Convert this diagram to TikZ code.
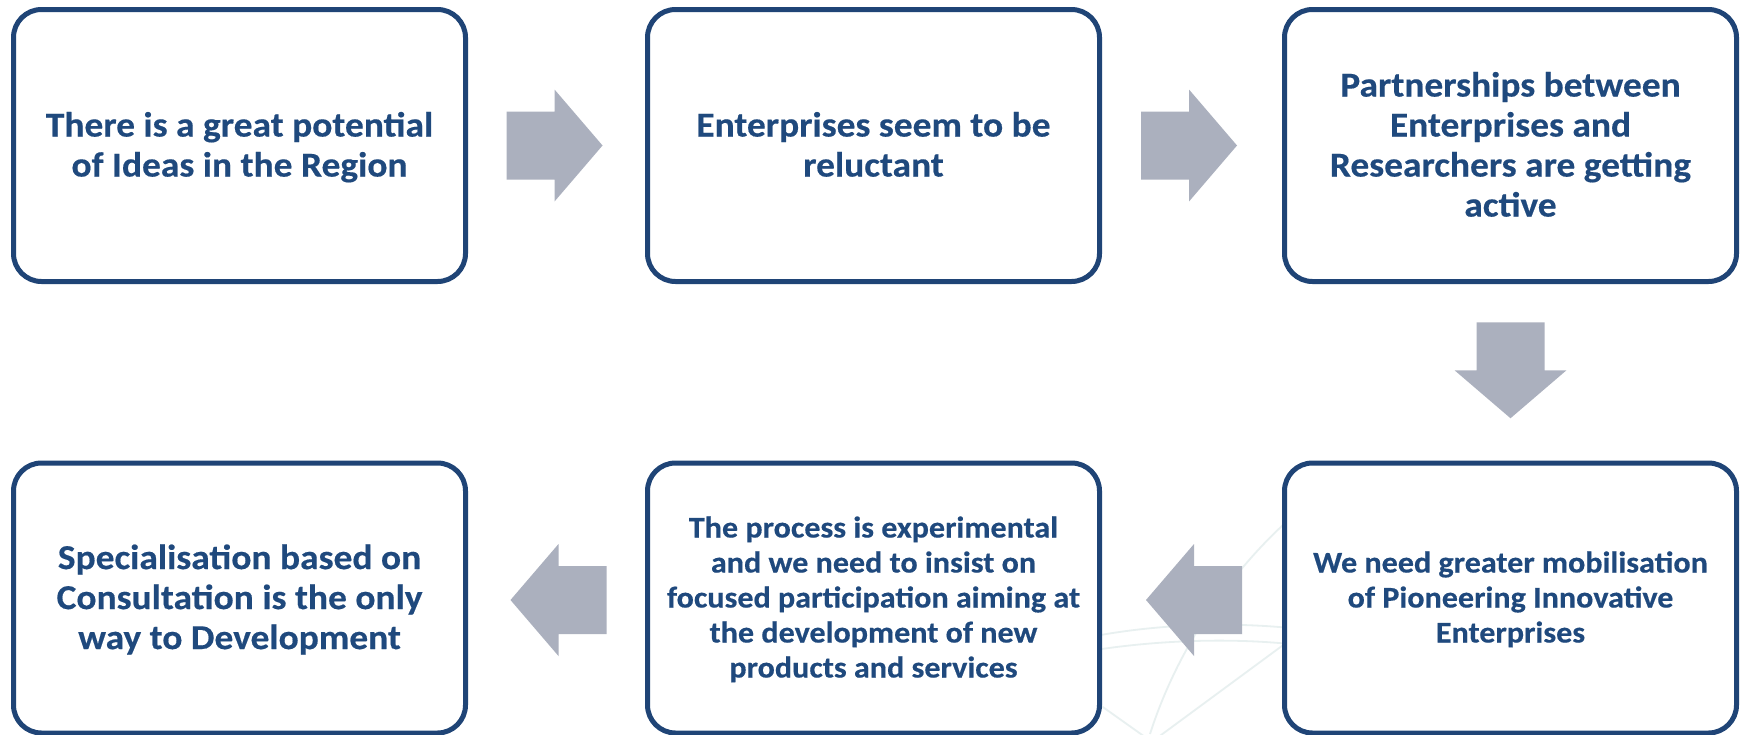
\documentclass[tikz,border=0pt]{standalone}
\usepackage{fontspec}
\setmainfont[BoldFeatures={FakeStretch=1.07,FakeBold=0.4}]{Carlito}
\usetikzlibrary{calc}
\definecolor{boxline}{HTML}{1F4476}
\definecolor{boxtext}{HTML}{1F497D}
\definecolor{arrowfill}{HTML}{ABB0BE}
\definecolor{globeline}{HTML}{E8F0F0}
\newcommand\bigstr{\rule[-8.95pt]{0pt}{40pt}}
\newcommand\smallstr{\rule[-8pt]{0pt}{35pt}}
\tikzset{
  stepbox/.style={draw=boxline, line width=5pt, rounded corners=28pt, fill=white,
    minimum width=452pt, minimum height=272pt, inner sep=0pt, align=center,
    text=boxtext, font=\fontsize{35}{40}\selectfont\bfseries},
  lowbox/.style={stepbox, minimum height=270pt},
  smalltext/.style={font=\fontsize{30}{35}\selectfont\bfseries},
  globe/.style={draw=globeline, line width=1.8pt},
  blockarrow/.pic={\fill[arrowfill] (-48,-34) -- (0,-34) -- (0,-56) -- (48,0) -- (0,56) -- (0,34) -- (-48,34) -- cycle;}
}
\begin{document}
\begin{tikzpicture}[x=1pt,y=-1pt]
\useasboundingbox (0,0) rectangle (1743,734);
\fill[white] (0,0) rectangle (1743,734);
% faint globe watermark
\begin{scope}
\clip (1080,300) rectangle (1743,734);
\draw[globe] (1095,636) .. controls (1160,624) and (1230,622) .. (1290,628);
\draw[globe] (1095,650) .. controls (1160,640) and (1230,638) .. (1290,644);
\draw[globe] (1100,705) -- (1290,840);
\draw[globe] (1100,780) -- (1290,640);
\draw[globe] (1150,734) .. controls (1180,640) and (1240,560) .. (1300,510);
\end{scope}
% boxes
\node[stepbox] (b1) at (239.5,145.5) {\bigstr There is a great potential\\\bigstr of Ideas in the Region};
\node[stepbox] (b2) at (873.5,145.5) {\bigstr Enterprises seem to be\\\bigstr reluctant};
\node[stepbox] (b3) at (1510.5,145.5) {\bigstr Partnerships between\\\bigstr Enterprises and\\\bigstr Researchers are getting\\\bigstr active};
\node[lowbox, smalltext] (b4) at (1510.5,598) {\smallstr We need greater mobilisation\\\smallstr of Pioneering Innovative\\\smallstr Enterprises};
\node[lowbox, smalltext] (b5) at (873.5,598) {\smallstr The process is experimental\\\smallstr and we need to insist on\\\smallstr focused participation aiming at\\\smallstr the development of new\\\smallstr products and services};
\node[lowbox] (b6) at (239.5,598) {\bigstr Specialisation based on\\\bigstr Consultation is the only\\\bigstr way to Development};
% arrows
\pic at ($(b1.east)!0.5!(b2.west)+(-2,0)$) {blockarrow};
\pic at ($(b2.east)!0.5!(b3.west)+(-3,0)$) {blockarrow};
\pic[rotate=-90] at ($(b3.south)!0.5!(b4.north)+(0,-2)$) {blockarrow};
\pic[rotate=180] at ($(b4.west)!0.5!(b5.east)+(2,2)$) {blockarrow};
\pic[rotate=180] at ($(b5.west)!0.5!(b6.east)+(2,2)$) {blockarrow};
\end{tikzpicture}
\end{document}
